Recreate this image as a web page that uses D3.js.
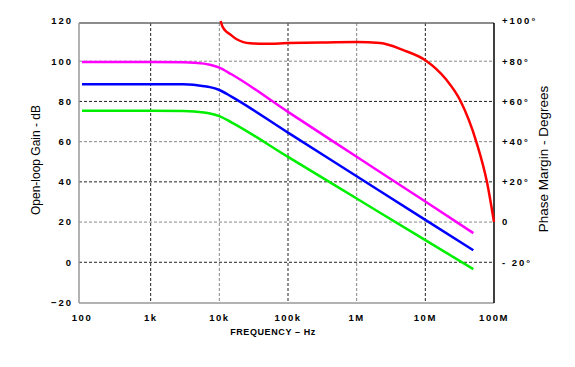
<!DOCTYPE html>
<html>
<head>
<meta charset="utf-8">
<script src="https://cdn.jsdelivr.net/npm/d3@7"></script>
<style>
  body { margin: 0; background: #fff; }
  text { font-family: "Liberation Sans", Arial, sans-serif; }
</style>
</head>
<body>
<div id="chart"></div>
<script>
const width = 575;
const height = 367;

// axes
const freqTicks = [100, 1e3, 1e4, 1e5, 1e6, 1e7, 1e8];
const freqLabels = ["100", "1k", "10k", "100k", "1M", "10M", "100M"];
const gainTicks = [120, 100, 80, 60, 40, 20, 0, -20];
const phaseTicks = [100, 80, 60, 40, 20, 0, -20];
const phaseLabels = ["+100°", "+80°", "+60°", "+40°", "+20°", "0", "- 20°"];

// open-loop gain curves (dB)
const gainFreq = [100, 1e3, 3e3, 6e3, 7.3e3, 1e4, 1.5e4, 1e5, 1e6, 1e7, 5e7];
const gainHigh = [99.6, 99.6, 99.5, 98.8, 98.2, 96.8, 93.5, 74.8, 52.5, 30.2, 14.5];
const gainMid  = [88.6, 88.6, 88.5, 87.6, 87.1, 85.7, 82.4, 64.5, 42.8, 21.1, 6.0];
const gainLow  = [75.4, 75.4, 75.3, 74.5, 74.0, 72.7, 69.6, 52.4, 31.7, 11.0, -3.4];

// phase margin curve (degrees)
const phaseFreq = [1.045e4, 1.1e4, 1.2e4, 1.43e4, 1.79e4, 2.23e4, 2.8e4, 4.5e4, 1e5, 3e5, 1e6, 2.2e6, 4.7e6, 1e7, 2e7, 3.2e7, 5.6e7, 7.9e7, 1e8];
const phaseVals = [100, 97.6, 95.5, 93.4, 90.9, 89.5, 88.9, 88.7, 89, 89.3, 89.5, 89, 85.6, 80.5, 71, 60.7, 39.3, 19.9, 0];

const svg = d3.select("#chart")
  .append("svg")
  .attr("width", width)
  .attr("height", height)

const x = d3.scaleLog().domain([100, 1e8]).range([82, 494]);
const y = d3.scaleLinear().domain([-20, 120]).range([302.5, 21]);
const yPhase = d3.scaleLinear().domain([-40, 100]).range([302.5, 21]);

const plotL = 79, plotR = 494, plotT = 23, plotB = 303;

// grid
svg.selectAll(".hgrid")
  .data(gainTicks.filter(d => d > -20 && d < 120))
  .join("line")
    .attr("x1", plotL).attr("x2", plotR)
    .attr("y1", d => y(d)).attr("y2", d => y(d))
    .style("stroke", (d, i) => i % 2 ? "#222" : "#888")
    .style("stroke-width", 1)
    .style("stroke-dasharray", "3,2")

svg.selectAll(".vgrid")
  .data(freqTicks.slice(1, -1))
  .join("line")
    .attr("x1", d => x(d)).attr("x2", d => x(d))
    .attr("y1", plotT).attr("y2", plotB)
    .style("stroke", (d, i) => i % 2 ? "#888" : "#222")
    .style("stroke-width", 1)
    .style("stroke-dasharray", "3,2")

// frame
svg.append("line").attr("x1", plotL).attr("x2", plotR).attr("y1", plotT).attr("y2", plotT)
  .style("stroke", "#666").style("stroke-width", 1.5)
svg.append("line").attr("x1", plotL).attr("x2", plotL).attr("y1", plotT).attr("y2", plotB)
  .style("stroke", "#999").style("stroke-width", 1.5)
svg.append("line").attr("x1", plotL).attr("x2", plotR).attr("y1", plotB).attr("y2", plotB)
  .style("stroke", "#999").style("stroke-width", 1.5)
svg.append("line").attr("x1", plotR).attr("x2", plotR).attr("y1", plotT).attr("y2", plotB)
  .style("stroke", "#000").style("stroke-width", 1.5)

// curves
const gainLine = d3.line()
  .x((d, i) => x(gainFreq[i]))
  .y(d => y(d))
  .curve(d3.curveMonotoneX)

const series = [
  { values: gainHigh, color: "#ff00ff" },
  { values: gainMid, color: "#0000ff" },
  { values: gainLow, color: "#00ee00" }
];

svg.selectAll(".gain")
  .data(series)
  .join("path")
    .attr("d", d => gainLine(d.values))
    .style("fill", "none")
    .style("stroke", d => d.color)
    .style("stroke-width", 2.5)

const phaseLine = d3.line()
  .x((d, i) => x(phaseFreq[i]))
  .y(d => yPhase(d))
  .curve(d3.curveMonotoneX)

svg.append("path")
  .attr("d", phaseLine(phaseVals))
  .style("fill", "none")
  .style("stroke", "#ff0000")
  .style("stroke-width", 2.5)

// tick labels
svg.selectAll(".ylab")
  .data(gainTicks)
  .join("text")
    .attr("x", 73)
    .attr("y", d => y(d))
    .attr("dy", "0.35em")
    .attr("text-anchor", "end")
    .style("font-size", "9.5px")
    .style("font-weight", "bold")
    .style("letter-spacing", "2px")
    .text(d => d === -20 ? "−20" : d)

svg.selectAll(".plab")
  .data(phaseTicks)
  .join("text")
    .attr("x", 502)
    .attr("y", d => yPhase(d))
    .attr("dy", "0.35em")
    .style("font-size", "9.5px")
    .style("font-weight", "bold")
    .style("letter-spacing", "2px")
    .text((d, i) => phaseLabels[i])

svg.selectAll(".xlab")
  .data(freqTicks)
  .join("text")
    .attr("x", d => x(d))
    .attr("y", 321)
    .attr("text-anchor", "middle")
    .style("font-size", "9.5px")
    .style("font-weight", "bold")
    .style("letter-spacing", "1.5px")
    .text((d, i) => freqLabels[i])

// titles
svg.append("text")
  .attr("transform", "translate(36,160) rotate(-90)")
  .attr("text-anchor", "middle")
  .attr("dy", "0.35em")
  .style("font-size", "12px")
  .text("Open-loop Gain - dB")

svg.append("text")
  .attr("transform", "translate(543,159) rotate(-90)")
  .attr("text-anchor", "middle")
  .attr("dy", "0.35em")
  .style("font-size", "13.5px")
  .text("Phase Margin - Degrees")

svg.append("text")
  .attr("x", 273)
  .attr("y", 335)
  .attr("text-anchor", "middle")
  .style("font-size", "9px")
  .style("font-weight", "bold")
  .style("letter-spacing", "0.6px")
  .text("FREQUENCY – Hz")
</script>
</body>
</html>
